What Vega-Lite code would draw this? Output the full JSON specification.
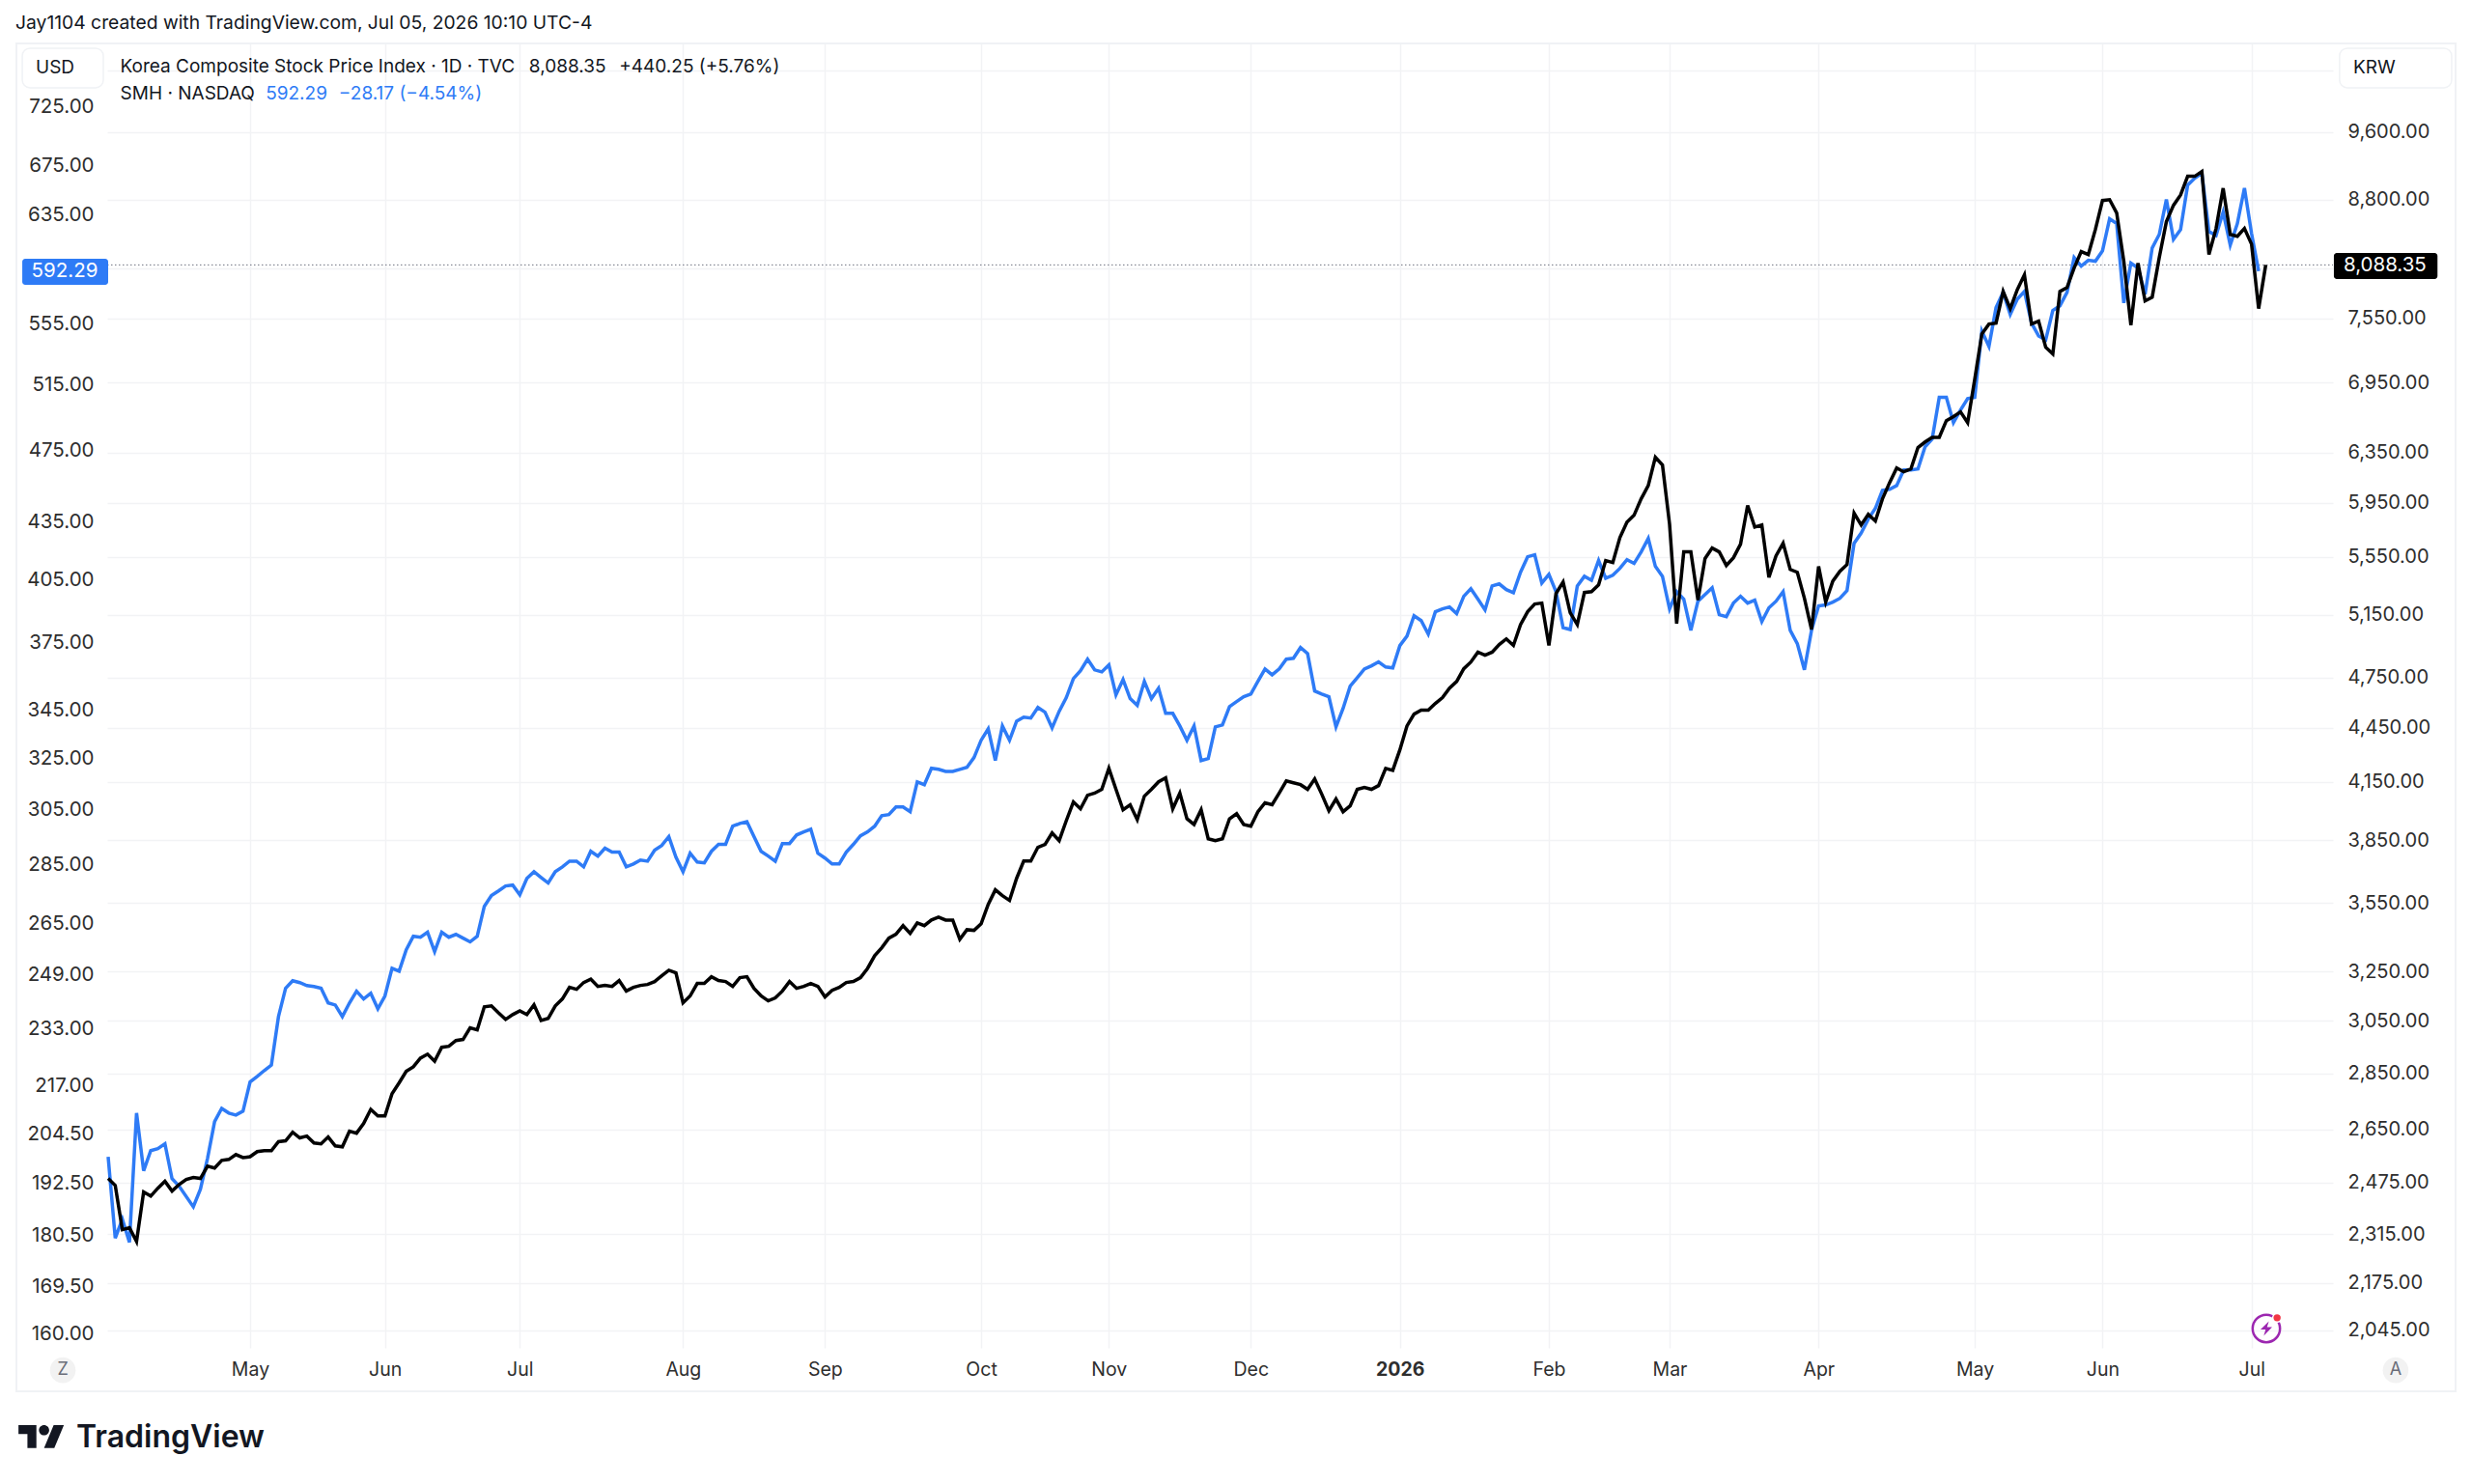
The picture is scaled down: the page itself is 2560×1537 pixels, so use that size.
{
  "$schema": "https://vega.github.io/schema/vega-lite/v6.json",
  "width": 2305,
  "height": 1351,
  "padding": {"left": 111, "top": 45, "right": 144, "bottom": 141},
  "autosize": "none",
  "background": "white",
  "view": {"stroke": null},
  "config": {
    "font": "Inter",
    "text": {"font": "Inter", "fontSize": 19, "color": "#131722"},
    "axis": {"labelFont": "Inter", "labelFontSize": 19.5, "labelColor": "#2e2e2e", "domain": false, "ticks": false, "title": null, "gridColor": "#f2f3f5", "gridWidth": 1.5, "labelOverlap": false, "labelBound": false, "labelFlush": false}
  },
  "datasets": {
    "smh": [
      {"i":0,"close":198.9},{"i":1,"close":179.9},{"i":2,"close":184.2},{"i":3,"close":179.0},{"i":4,"close":209.9},{"i":5,"close":195.5},{"i":6,"close":200.4},{"i":7,"close":200.9},{"i":8,"close":202.1},{"i":9,"close":193.6},
      {"i":10,"close":191.8},{"i":12,"close":187.0},{"i":13,"close":191.1},{"i":14,"close":198.5},{"i":15,"close":207.7},{"i":16,"close":211.1},{"i":17,"close":209.9},{"i":18,"close":209.4},{"i":19,"close":210.4},
      {"i":20,"close":218.1},{"i":21,"close":219.6},{"i":22,"close":221.2},{"i":23,"close":222.7},{"i":24,"close":236.4},{"i":25,"close":244.8},{"i":26,"close":247.1},{"i":27,"close":246.5},{"i":28,"close":245.6},{"i":29,"close":245.3},
      {"i":30,"close":244.8},{"i":31,"close":240.4},{"i":32,"close":239.8},{"i":33,"close":236.4},{"i":34,"close":240.4},{"i":35,"close":243.9},{"i":36,"close":241.6},{"i":37,"close":243.3},{"i":38,"close":238.7},{"i":39,"close":242.5},
      {"i":40,"close":250.9},{"i":41,"close":250.0},{"i":42,"close":256.7},{"i":43,"close":261.0},{"i":44,"close":260.7},{"i":45,"close":262.3},{"i":46,"close":256.1},{"i":47,"close":262.3},{"i":48,"close":260.7},{"i":49,"close":261.6},
      {"i":50,"close":260.4},{"i":51,"close":259.2},{"i":52,"close":261.0},{"i":53,"close":270.8},{"i":54,"close":274.4},{"i":55,"close":276.0},{"i":56,"close":277.7},{"i":57,"close":278.0},{"i":58,"close":274.7},{"i":59,"close":280.3},
      {"i":60,"close":282.6},{"i":61,"close":280.6},{"i":62,"close":278.7},{"i":63,"close":282.6},{"i":64,"close":284.3},{"i":65,"close":286.3},{"i":66,"close":286.3},{"i":67,"close":284.3},{"i":68,"close":289.8},{"i":69,"close":288.1},
      {"i":70,"close":290.9},{"i":71,"close":289.5},{"i":72,"close":289.5},{"i":73,"close":284.3},{"i":74,"close":285.3},{"i":75,"close":286.7},{"i":76,"close":286.3},{"i":77,"close":290.2},{"i":78,"close":291.9},{"i":79,"close":295.1},
      {"i":80,"close":287.7},{"i":81,"close":282.6},{"i":82,"close":289.1},{"i":83,"close":286.0},{"i":84,"close":285.7},{"i":85,"close":289.8},{"i":86,"close":292.3},{"i":87,"close":292.3},{"i":88,"close":298.9},{"i":89,"close":299.9},
      {"i":90,"close":300.6},{"i":91,"close":295.1},{"i":92,"close":289.8},{"i":93,"close":288.1},{"i":94,"close":286.3},{"i":95,"close":292.6},{"i":96,"close":292.6},{"i":97,"close":295.7},{"i":98,"close":296.8},{"i":99,"close":297.8},
      {"i":100,"close":289.1},{"i":101,"close":287.4},{"i":102,"close":285.3},{"i":103,"close":285.3},{"i":104,"close":289.5},{"i":105,"close":292.3},{"i":106,"close":295.4},{"i":107,"close":296.8},{"i":108,"close":298.9},{"i":109,"close":302.8},
      {"i":110,"close":303.2},{"i":111,"close":306.1},{"i":112,"close":306.1},{"i":113,"close":304.3},{"i":114,"close":315.7},{"i":115,"close":314.6},{"i":116,"close":321.0},{"i":117,"close":320.6},{"i":118,"close":319.8},{"i":119,"close":319.8},
      {"i":120,"close":320.6},{"i":121,"close":321.4},{"i":122,"close":325.3},{"i":123,"close":332.3},{"i":124,"close":337.0},{"i":125,"close":324.1},{"i":126,"close":338.2},{"i":127,"close":332.3},{"i":128,"close":340.2},{"i":129,"close":341.9},
      {"i":130,"close":341.5},{"i":131,"close":346.0},{"i":132,"close":344.0},{"i":133,"close":337.4},{"i":134,"close":344.4},{"i":135,"close":350.2},{"i":136,"close":358.5},{"i":137,"close":362.0},{"i":138,"close":367.2},{"i":139,"close":362.4},
      {"i":140,"close":361.5},{"i":141,"close":364.6},{"i":142,"close":351.4},{"i":143,"close":358.1},{"i":144,"close":349.8},{"i":145,"close":346.9},{"i":146,"close":357.3},{"i":147,"close":349.8},{"i":148,"close":354.3},{"i":149,"close":343.5},
      {"i":150,"close":343.5},{"i":151,"close":338.2},{"i":152,"close":332.3},{"i":153,"close":338.2},{"i":154,"close":324.1},{"i":155,"close":324.9},{"i":156,"close":337.8},{"i":157,"close":338.6},{"i":158,"close":346.4},{"i":159,"close":348.5},
      {"i":160,"close":350.6},{"i":161,"close":351.8},{"i":162,"close":357.3},{"i":163,"close":362.8},{"i":164,"close":360.2},{"i":165,"close":362.8},{"i":166,"close":367.2},{"i":167,"close":367.6},{"i":168,"close":372.5},{"i":169,"close":369.8},
      {"i":170,"close":353.1},{"i":171,"close":351.8},{"i":172,"close":350.6},{"i":173,"close":337.8},{"i":174,"close":345.6},{"i":175,"close":355.2},{"i":176,"close":358.9},{"i":177,"close":362.8},{"i":178,"close":364.2},{"i":179,"close":366.0},
      {"i":180,"close":363.7},{"i":181,"close":363.3},{"i":182,"close":373.4},{"i":183,"close":377.8},{"i":184,"close":387.4},{"i":185,"close":385.1},{"i":186,"close":378.7},{"i":187,"close":389.3},{"i":188,"close":390.7},{"i":189,"close":391.6},
      {"i":190,"close":388.4},{"i":191,"close":396.8},{"i":192,"close":400.5},{"i":193,"close":395.4},{"i":194,"close":390.2},{"i":195,"close":401.9},{"i":196,"close":402.9},{"i":197,"close":400.1},{"i":198,"close":398.6},{"i":199,"close":408.7},
      {"i":200,"close":416.6},{"i":201,"close":417.6},{"i":202,"close":403.3},{"i":203,"close":407.7},{"i":204,"close":399.1},{"i":205,"close":381.8},{"i":206,"close":380.9},{"i":207,"close":401.9},{"i":208,"close":406.7},{"i":209,"close":404.7},
      {"i":210,"close":414.7},{"i":211,"close":405.7},{"i":212,"close":407.2},{"i":213,"close":410.7},{"i":214,"close":415.1},{"i":215,"close":413.2},{"i":216,"close":419.1},{"i":217,"close":426.1},{"i":218,"close":411.7},{"i":219,"close":406.7},
      {"i":220,"close":390.7},{"i":221,"close":399.1},{"i":222,"close":395.4},{"i":223,"close":380.5},{"i":224,"close":394.4},{"i":225,"close":397.7},{"i":226,"close":401.0},{"i":227,"close":387.9},{"i":228,"close":387.0},{"i":229,"close":393.5},
      {"i":230,"close":396.8},{"i":231,"close":393.5},{"i":232,"close":394.9},{"i":233,"close":384.6},{"i":234,"close":391.2},{"i":235,"close":394.4},{"i":236,"close":399.1},{"i":237,"close":380.5},{"i":238,"close":374.3},{"i":239,"close":362.4},
      {"i":240,"close":380.5},{"i":241,"close":392.1},{"i":242,"close":392.6},{"i":243,"close":394.0},{"i":244,"close":395.8},{"i":245,"close":399.6},{"i":246,"close":423.6},{"i":247,"close":429.0},{"i":248,"close":436.4},{"i":249,"close":442.2},
      {"i":250,"close":452.2},{"i":251,"close":452.7},{"i":252,"close":454.8},{"i":253,"close":463.7},{"i":254,"close":463.7},{"i":255,"close":464.2},{"i":256,"close":477.1},{"i":257,"close":481.6},{"i":258,"close":507.0},{"i":259,"close":507.0},
      {"i":260,"close":491.5},{"i":261,"close":499.2},{"i":262,"close":506.3},{"i":263,"close":507.0},{"i":264,"close":550.2},{"i":265,"close":539.9},{"i":266,"close":566.3},{"i":267,"close":577.0},{"i":268,"close":561.6},{"i":269,"close":572.3},
      {"i":270,"close":577.7},{"i":271,"close":555.6},{"i":272,"close":546.9},{"i":273,"close":544.3},{"i":274,"close":564.3},{"i":275,"close":567.6},{"i":276,"close":577.0},{"i":277,"close":602.4},{"i":278,"close":596.0},{"i":279,"close":600.3},
      {"i":280,"close":599.6},{"i":281,"close":607.4},{"i":282,"close":631.8},{"i":283,"close":628.1},{"i":284,"close":569.6},{"i":285,"close":598.2},{"i":286,"close":594.6},{"i":287,"close":575.7},{"i":288,"close":609.5},{"i":289,"close":619.8},
      {"i":290,"close":647.0},{"i":291,"close":616.0},{"i":292,"close":623.5},{"i":293,"close":658.6},{"i":294,"close":664.2},{"i":295,"close":668.2},{"i":296,"close":622.0},{"i":297,"close":619.0},{"i":298,"close":637.1},{"i":299,"close":611.7},
      {"i":300,"close":628.1},{"i":301,"close":656.2},{"i":302,"close":620.5},{"i":303,"close":592.29}
    ],
    "kospi": [
      {"i":0,"close":2488},{"i":1,"close":2466},{"i":2,"close":2329},{"i":3,"close":2335},{"i":4,"close":2294},{"i":5,"close":2445},{"i":6,"close":2432},{"i":7,"close":2457},{"i":8,"close":2479},{"i":9,"close":2448},
      {"i":10,"close":2469},{"i":11,"close":2485},{"i":12,"close":2491},{"i":13,"close":2488},{"i":14,"close":2528},{"i":15,"close":2522},{"i":16,"close":2547},{"i":17,"close":2550},{"i":18,"close":2566},{"i":19,"close":2556},
      {"i":20,"close":2559},{"i":21,"close":2576},{"i":22,"close":2579},{"i":23,"close":2579},{"i":24,"close":2609},{"i":25,"close":2612},{"i":26,"close":2641},{"i":27,"close":2622},{"i":28,"close":2628},{"i":29,"close":2605},
      {"i":30,"close":2602},{"i":31,"close":2625},{"i":32,"close":2595},{"i":33,"close":2592},{"i":34,"close":2645},{"i":35,"close":2638},{"i":36,"close":2671},{"i":37,"close":2720},{"i":38,"close":2697},{"i":39,"close":2697},
      {"i":40,"close":2776},{"i":41,"close":2815},{"i":42,"close":2857},{"i":43,"close":2874},{"i":44,"close":2906},{"i":45,"close":2921},{"i":46,"close":2895},{"i":47,"close":2947},{"i":48,"close":2951},{"i":49,"close":2973},
      {"i":50,"close":2977},{"i":51,"close":3022},{"i":52,"close":3014},{"i":53,"close":3105},{"i":54,"close":3109},{"i":55,"close":3081},{"i":56,"close":3055},{"i":57,"close":3074},{"i":58,"close":3089},{"i":59,"close":3074},
      {"i":60,"close":3113},{"i":61,"close":3051},{"i":62,"close":3059},{"i":63,"close":3109},{"i":64,"close":3137},{"i":65,"close":3184},{"i":66,"close":3176},{"i":67,"close":3204},{"i":68,"close":3218},{"i":69,"close":3188},
      {"i":70,"close":3192},{"i":71,"close":3188},{"i":72,"close":3212},{"i":73,"close":3169},{"i":74,"close":3184},{"i":75,"close":3192},{"i":76,"close":3196},{"i":77,"close":3208},{"i":78,"close":3232},{"i":79,"close":3255},
      {"i":80,"close":3244},{"i":81,"close":3121},{"i":82,"close":3149},{"i":83,"close":3200},{"i":84,"close":3200},{"i":85,"close":3228},{"i":86,"close":3212},{"i":87,"close":3208},{"i":88,"close":3188},{"i":89,"close":3224},
      {"i":90,"close":3228},{"i":91,"close":3180},{"i":92,"close":3149},{"i":93,"close":3129},{"i":94,"close":3141},{"i":95,"close":3169},{"i":96,"close":3208},{"i":97,"close":3180},{"i":98,"close":3188},{"i":99,"close":3200},
      {"i":100,"close":3188},{"i":101,"close":3145},{"i":102,"close":3172},{"i":103,"close":3184},{"i":104,"close":3204},{"i":105,"close":3208},{"i":106,"close":3224},{"i":107,"close":3263},{"i":108,"close":3317},{"i":109,"close":3351},
      {"i":110,"close":3393},{"i":111,"close":3410},{"i":112,"close":3448},{"i":113,"close":3414},{"i":114,"close":3460},{"i":115,"close":3448},{"i":116,"close":3473},{"i":117,"close":3486},{"i":118,"close":3473},{"i":119,"close":3473},
      {"i":120,"close":3388},{"i":121,"close":3430},{"i":122,"close":3427},{"i":123,"close":3456},{"i":124,"close":3544},{"i":125,"close":3611},{"i":126,"close":3584},{"i":127,"close":3562},{"i":128,"close":3665},{"i":129,"close":3748},
      {"i":130,"close":3748},{"i":131,"close":3815},{"i":132,"close":3829},{"i":133,"close":3886},{"i":134,"close":3848},{"i":135,"close":3948},{"i":136,"close":4045},{"i":137,"close":4009},{"i":138,"close":4080},{"i":139,"close":4091},
      {"i":140,"close":4111},{"i":141,"close":4224},{"i":142,"close":4111},{"i":143,"close":4004},{"i":144,"close":4030},{"i":145,"close":3953},{"i":146,"close":4075},{"i":147,"close":4111},{"i":148,"close":4151},{"i":149,"close":4172},
      {"i":150,"close":4009},{"i":151,"close":4091},{"i":152,"close":3958},{"i":153,"close":3929},{"i":154,"close":4004},{"i":155,"close":3857},{"i":156,"close":3848},{"i":157,"close":3857},{"i":158,"close":3958},{"i":159,"close":3984},
      {"i":160,"close":3929},{"i":161,"close":3920},{"i":162,"close":3994},{"i":163,"close":4040},{"i":164,"close":4030},{"i":165,"close":4091},{"i":166,"close":4156},{"i":167,"close":4146},{"i":168,"close":4136},{"i":169,"close":4111},
      {"i":170,"close":4167},{"i":171,"close":4085},{"i":172,"close":3999},{"i":173,"close":4060},{"i":174,"close":3994},{"i":175,"close":4024},{"i":176,"close":4111},{"i":177,"close":4121},{"i":178,"close":4111},{"i":179,"close":4131},
      {"i":180,"close":4224},{"i":181,"close":4213},{"i":182,"close":4326},{"i":183,"close":4461},{"i":184,"close":4530},{"i":185,"close":4553},{"i":186,"close":4553},{"i":187,"close":4593},{"i":188,"close":4627},{"i":189,"close":4685},
      {"i":190,"close":4725},{"i":191,"close":4803},{"i":192,"close":4845},{"i":193,"close":4907},{"i":194,"close":4888},{"i":195,"close":4907},{"i":196,"close":4956},{"i":197,"close":4992},{"i":198,"close":4950},{"i":199,"close":5085},
      {"i":200,"close":5170},{"i":201,"close":5222},{"i":202,"close":5228},{"i":203,"close":4950},{"i":204,"close":5293},{"i":205,"close":5372},{"i":206,"close":5163},{"i":207,"close":5085},{"i":208,"close":5300},{"i":209,"close":5306},
      {"i":210,"close":5352},{"i":211,"close":5523},{"i":212,"close":5509},{"i":213,"close":5689},{"i":214,"close":5804},{"i":215,"close":5856},{"i":216,"close":5981},{"i":217,"close":6084},{"i":218,"close":6311},{"i":219,"close":6248},
      {"i":220,"close":5789},{"i":221,"close":5092},{"i":222,"close":5585},{"i":223,"close":5585},{"i":224,"close":5248},{"i":225,"close":5537},{"i":226,"close":5613},{"i":227,"close":5585},{"i":228,"close":5488},{"i":229,"close":5543},
      {"i":230,"close":5641},{"i":231,"close":5930},{"i":232,"close":5767},{"i":233,"close":5782},{"i":234,"close":5405},{"i":235,"close":5557},{"i":236,"close":5648},{"i":237,"close":5460},{"i":238,"close":5440},{"i":239,"close":5261},
      {"i":240,"close":5053},{"i":241,"close":5481},{"i":242,"close":5235},{"i":243,"close":5378},{"i":244,"close":5447},{"i":245,"close":5495},{"i":246,"close":5871},{"i":247,"close":5782},{"i":248,"close":5863},{"i":249,"close":5812},
      {"i":250,"close":5981},{"i":251,"close":6107},{"i":252,"close":6224},{"i":253,"close":6193},{"i":254,"close":6216},{"i":255,"close":6390},{"i":256,"close":6436},{"i":257,"close":6475},{"i":258,"close":6475},{"i":259,"close":6616},
      {"i":260,"close":6650},{"i":261,"close":6691},{"i":262,"close":6599},{"i":263,"close":6979},{"i":264,"close":7399},{"i":265,"close":7494},{"i":266,"close":7503},{"i":267,"close":7816},{"i":268,"close":7645},{"i":269,"close":7835},
      {"i":270,"close":7986},{"i":271,"close":7494},{"i":272,"close":7522},{"i":273,"close":7273},{"i":274,"close":7210},{"i":275,"close":7816},{"i":276,"close":7855},{"i":277,"close":8056},{"i":278,"close":8228},{"i":279,"close":8197},
      {"i":280,"close":8467},{"i":281,"close":8789},{"i":282,"close":8799},{"i":283,"close":8649},{"i":284,"close":8127},{"i":285,"close":7484},{"i":286,"close":8107},{"i":287,"close":7721},{"i":288,"close":7759},{"i":289,"close":8167},
      {"i":290,"close":8553},{"i":291,"close":8735},{"i":292,"close":8853},{"i":293,"close":9068},{"i":294,"close":9068},{"i":295,"close":9125},{"i":296,"close":8197},{"i":297,"close":8478},{"i":298,"close":8930},{"i":299,"close":8413},
      {"i":300,"close":8392},{"i":301,"close":8478},{"i":302,"close":8308},{"i":303,"close":7645},{"i":304,"close":8088.35}
    ]
  },
  "encoding": {
    "x": {
      "field": "i",
      "type": "quantitative",
      "scale": {"domain": [-0.136, 313.47], "nice": false, "zero": false},
      "axis": {
        "orient": "bottom",
        "grid": true,
        "values": [20, 39, 58, 81, 101, 123, 141, 161, 182, 203, 220, 241, 263, 281, 302],
        "labelExpr": "{'20':'May','39':'Jun','58':'Jul','81':'Aug','101':'Sep','123':'Oct','141':'Nov','161':'Dec','182':'2026','203':'Feb','220':'Mar','241':'Apr','263':'May','281':'Jun','302':'Jul'}[datum.value]",
        "labelPadding": 13,
        "labelFontWeight": {"condition": {"test": "datum.value == 182", "value": "bold"}, "value": "normal"}
      }
    },
    "y": {
      "field": "usd",
      "type": "quantitative",
      "scale": {"type": "log", "domain": [157.17, 784.2], "nice": false},
      "axis": null
    }
  },
  "layer": [
    {
      "data": {"values": [{"i": -12.93, "i2": 330.75, "usd": 784.2, "usd2": 148.97}]},
      "mark": {"type": "rect", "fill": "transparent", "stroke": "#f0f2f5", "strokeWidth": 2},
      "encoding": {"x2": {"field": "i2"}, "y2": {"field": "usd2"}}
    },
    {
      "data": {"values": [{"i": -0.136, "i2": 313.47, "close": 8088.35}]},
      "mark": {"type": "rule", "color": "#6f7280", "strokeWidth": 1, "strokeDash": [1.5, 2.5]},
      "encoding": {
        "x2": {"field": "i2"},
        "y": {"field": "close", "type": "quantitative", "scale": {"type": "log", "domain": [1999.6, 10764], "nice": false}, "axis": null}
      }
    },
    {
      "data": {"name": "smh"},
      "mark": {"type": "line", "color": "#2e7bf6", "strokeWidth": 3.5},
      "encoding": {
        "y": {
          "field": "close",
          "type": "quantitative",
          "scale": {"type": "log", "domain": [157.17, 784.2], "nice": false},
          "axis": {
            "orient": "left",
            "grid": false,
            "values": [160, 169.5, 180.5, 192.5, 204.5, 217, 233, 249, 265, 285, 305, 325, 345, 375, 405, 435, 475, 515, 555, 635, 675, 725],
            "format": ".2f",
            "labelPadding": 14,
            "labelFontSize": 20.5
          }
        }
      }
    },
    {
      "data": {"name": "kospi"},
      "mark": {"type": "line", "color": "#000000", "strokeWidth": 3.5},
      "encoding": {
        "y": {
          "field": "close",
          "type": "quantitative",
          "scale": {"type": "log", "domain": [1999.6, 10764], "nice": false},
          "axis": {
            "orient": "right",
            "grid": true,
            "values": [2045, 2175, 2315, 2475, 2650, 2850, 3050, 3250, 3550, 3850, 4150, 4450, 4750, 5150, 5550, 5950, 6350, 6950, 7550, 8050, 8800, 9600, 10400],
            "labelExpr": "datum.value == 8050 || datum.value == 10400 ? '' : format(datum.value, ',.2f')",
            "labelPadding": 15,
            "labelFontSize": 20
          }
        }
      }
    },
    {
      "data": {"values": [
        {"i": -12.1, "i2": -0.68, "usd": 779.6, "usd2": 742.5},
        {"i": 314.4, "i2": 330.2, "usd": 779.6, "usd2": 742.5}
      ]},
      "mark": {"type": "rect", "fill": "white", "stroke": "#f0f2f5", "strokeWidth": 1.5, "cornerRadius": 8},
      "encoding": {"x2": {"field": "i2"}, "y2": {"field": "usd2"}}
    },
    {
      "data": {"values": [{"i": -12.1, "i2": 0, "usd": 601.5, "usd2": 582.4}]},
      "mark": {"type": "rect", "fill": "#2e7bf6", "cornerRadius": 3},
      "encoding": {"x2": {"field": "i2"}, "y2": {"field": "usd2"}}
    },
    {
      "data": {"values": [{"i": 313.6, "i2": 328.2, "usd": 605.8, "usd2": 586.6}]},
      "mark": {"type": "rect", "fill": "#000000", "cornerRadius": 3},
      "encoding": {"x2": {"field": "i2"}, "y2": {"field": "usd2"}}
    },
    {
      "data": {"values": [
        {"i": -6.12, "usd": 592.29, "label": "592.29"},
        {"i": 320.8, "usd": 596.5, "label": "8,088.35"}
      ]},
      "mark": {"type": "text", "color": "white", "align": "center", "baseline": "middle", "fontSize": 20.5},
      "encoding": {"text": {"field": "label"}}
    },
    {
      "data": {"values": [{"i": -13.06, "usd": 803.6, "label": "Jay1104 created with TradingView.com, Jul 05, 2026 10:10 UTC-4"}]},
      "mark": {"type": "text", "align": "left", "baseline": "middle", "fontSize": 19.3},
      "encoding": {"text": {"field": "label"}}
    },
    {
      "data": {"values": [
        {"i": 1.71, "usd": 762.2, "label": "Korea Composite Stock Price Index · 1D · TVC"},
        {"i": 59.3, "usd": 762.2, "label": "8,088.35"},
        {"i": 72.0, "usd": 762.2, "label": "+440.25 (+5.76%)"},
        {"i": 1.71, "usd": 737.2, "label": "SMH · NASDAQ"}
      ]},
      "mark": {"type": "text", "align": "left", "baseline": "middle"},
      "encoding": {"text": {"field": "label"}}
    },
    {
      "data": {"values": [
        {"i": 22.2, "usd": 737.2, "label": "592.29"},
        {"i": 32.5, "usd": 737.2, "label": "−28.17 (−4.54%)"}
      ]},
      "mark": {"type": "text", "align": "left", "baseline": "middle", "color": "#2e7bf6"},
      "encoding": {"text": {"field": "label"}}
    },
    {
      "data": {"values": [
        {"i": -7.48, "usd": 761.2, "label": "USD"},
        {"i": 319.3, "usd": 761.2, "label": "KRW"}
      ]},
      "mark": {"type": "text", "align": "center", "baseline": "middle"},
      "encoding": {"text": {"field": "label"}}
    },
    {
      "data": {"values": [{"i": -6.39, "usd": 152.9}, {"i": 322.3, "usd": 152.9}]},
      "mark": {"type": "point", "filled": true, "shape": "circle", "size": 707, "color": "#f2f2f2", "opacity": 1},
      "encoding": {}
    },
    {
      "data": {"values": [
        {"i": -6.39, "usd": 152.9, "label": "Z"},
        {"i": 322.3, "usd": 152.9, "label": "A"}
      ]},
      "mark": {"type": "text", "align": "center", "baseline": "middle", "color": "#6a6d78", "fontSize": 18},
      "encoding": {"text": {"field": "label"}}
    },
    {
      "data": {"values": [{"i": 304.08, "usd": 160.96}]},
      "mark": {"type": "point", "filled": false, "shape": "circle", "size": 804, "color": "#9c27b0", "strokeWidth": 2.5, "opacity": 1},
      "encoding": {}
    },
    {
      "data": {"values": [{"i": 304.08, "usd": 160.96}]},
      "mark": {"type": "point", "filled": true, "shape": "M0.35,-1L-0.8,0.15L-0.1,0.15L-0.35,1L0.8,-0.2L0.1,-0.2Z", "size": 225, "color": "#9c27b0", "opacity": 1},
      "encoding": {}
    },
    {
      "data": {"values": [{"i": 305.6, "usd": 163.1}]},
      "mark": {"type": "point", "filled": true, "shape": "circle", "size": 110, "color": "white", "opacity": 1},
      "encoding": {}
    },
    {
      "data": {"values": [{"i": 305.6, "usd": 163.1}]},
      "mark": {"type": "point", "filled": true, "shape": "circle", "size": 55, "color": "#f23645", "opacity": 1},
      "encoding": {}
    },
    {
      "data": {"values": [{"i": -9.39, "usd": 140.9}]},
      "mark": {
        "type": "point",
        "filled": true,
        "shape": "M-0.222,0.5H-0.611V-0.111H-1V-0.5H-0.222ZM0.556,0.5H0.111L0.528,-0.5H0.972ZM-0.111,-0.278a0.222,0.222 0 1 0 0.444,0a0.222,0.222 0 1 0 -0.444,0Z",
        "size": 2275,
        "color": "#131722",
        "opacity": 1
      },
      "encoding": {}
    },
    {
      "data": {"values": [{"i": -4.49, "usd": 140.7, "label": "TradingView"}]},
      "mark": {"type": "text", "align": "left", "baseline": "middle", "fontSize": 32, "fontWeight": 600},
      "encoding": {"text": {"field": "label"}}
    }
  ],
  "resolve": {"scale": {"y": "independent"}, "axis": {"y": "independent"}}
}
